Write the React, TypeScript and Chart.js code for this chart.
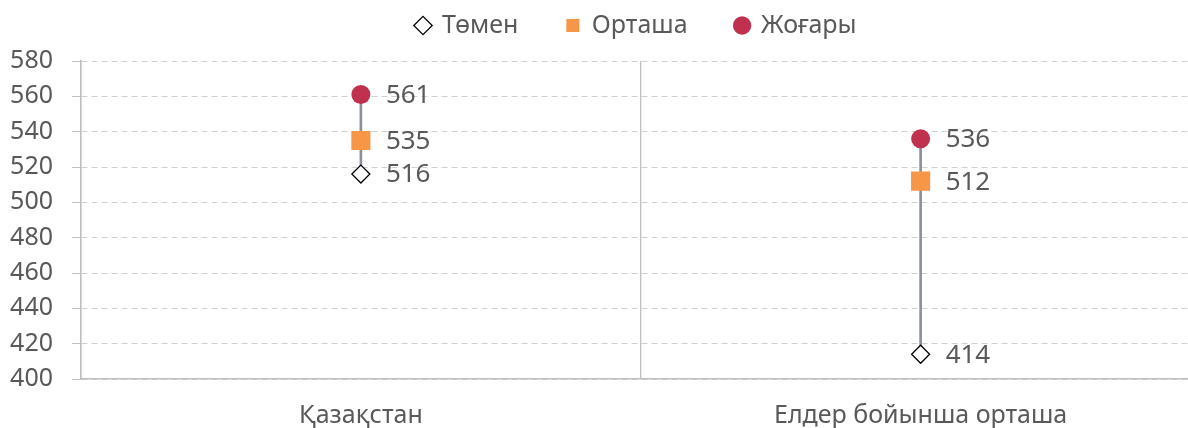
import React, { useEffect, useRef } from "react";
import { Chart, registerables } from "chart.js";

Chart.register(...registerables);

const categories = ["Қазақстан", "Елдер бойынша орташа"];
const lowValues = [516, 414];
const midValues = [535, 512];
const highValues = [561, 536];
const seriesNames = ["Төмен", "Орташа", "Жоғары"];
const yTicks = [400, 420, 440, 460, 480, 500, 520, 540, 560, 580];

const FONT = "'Noto Sans', sans-serif";
const TEXT = "#595959";

const labelPlugin = {
  id: "valueLabels",
  afterDatasetsDraw(chart: any) {
    const ctx = chart.ctx;
    ctx.save();
    ctx.font = `26px ${FONT}`;
    ctx.fillStyle = TEXT;
    ctx.textAlign = "left";
    ctx.textBaseline = "middle";
    chart.data.datasets.forEach((ds: any, di: number) => {
      if (ds.type !== "line") return;
      const meta = chart.getDatasetMeta(di);
      meta.data.forEach((pt: any, i: number) => {
        ctx.fillText(String(ds.data[i]), pt.x + 25, pt.y + 1);
      });
    });
    ctx.restore();
  },
};

const legendPlugin = {
  id: "legendTweak",
  beforeInit(chart: any) {
    const legend = chart.legend;
    if (!legend) return;
    const origFit = legend.fit;
    legend.fit = function () {
      origFit.call(this);
      this.height = 96;
    };
  },
  afterLayout(chart: any) {
    const legend = chart.legend;
    if (!legend) return;
    legend.left += 30;
    legend.right += 30;
  },
};

export default function App() {
  const ref = useRef<HTMLCanvasElement | null>(null);
  useEffect(() => {
    if (!ref.current) return;
    const chart = new Chart(ref.current, {
      type: "bar",
      data: {
        labels: categories,
        datasets: [
          {
            type: "line",
            label: seriesNames[0],
            data: lowValues,
            showLine: false,
            pointStyle: "rectRot",
            pointRadius: 9,
            pointBackgroundColor: "#ffffff",
            pointBorderColor: "#000000",
            pointBorderWidth: 1.3,
            backgroundColor: "#ffffff",
            borderColor: "#000000",
            borderWidth: 1.3,
          } as any,
          {
            type: "line",
            label: seriesNames[1],
            data: midValues,
            showLine: false,
            pointStyle: "rect",
            pointRadius: 13.5,
            pointBackgroundColor: "#f79646",
            pointBorderColor: "#f79646",
            pointBorderWidth: 0,
            backgroundColor: "#f79646",
            borderColor: "#f79646",
            borderWidth: 0,
          } as any,
          {
            type: "line",
            label: seriesNames[2],
            data: highValues,
            showLine: false,
            pointStyle: "circle",
            pointRadius: 9.5,
            pointBackgroundColor: "#c0304f",
            pointBorderColor: "#c0304f",
            pointBorderWidth: 0,
            backgroundColor: "#c0304f",
            borderColor: "#c0304f",
            borderWidth: 0,
          } as any,
          {
            type: "bar",
            label: "hilo",
            data: lowValues.map((v, i) => [v, highValues[i]]),
            backgroundColor: "#8a909e",
            barThickness: 2,
            borderWidth: 0,
          } as any,
        ],
      },
      options: {
        animation: false,
        responsive: true,
        maintainAspectRatio: false,
        devicePixelRatio: 1,
        layout: { padding: { left: 0, right: 1, top: -35, bottom: 0 } },
        plugins: {
          tooltip: { enabled: false },
          legend: {
            position: "top",
            labels: {
              filter: (item: any) => item.text !== "hilo",
              usePointStyle: true,
              boxHeight: 13,
              boxWidth: 13,
              padding: 48,
              color: TEXT,
              font: { family: FONT, size: 25 },
            },
          },
        },
        scales: {
          x: {
            offset: true,
            afterFit: (scale: any) => {
              scale.height = 49;
              scale.paddingLeft = 0;
              scale.paddingRight = 0;
            },
            grid: {
              offset: true,
              display: true,
              drawTicks: false,
              color: "#bfbfbf",
              lineWidth: 1.3,
            },
            border: { display: true, color: "#bfbfbf", width: 1.5 },
            ticks: {
              color: TEXT,
              font: { family: FONT, size: 25 },
              padding: 22,
            },
          },
          y: {
            min: 400,
            max: 580,
            afterFit: (scale: any) => {
              scale.width = 81;
              scale.paddingLeft = 0;
              scale.paddingRight = 0;
            },
            afterBuildTicks: (axis: any) => {
              axis.ticks = yTicks.map((v) => ({ value: v }));
            },
            grid: {
              color: "#d0d0d0",
              lineWidth: 1,
              tickLength: 9,
              tickColor: "#bfbfbf",
              tickBorderDash: [],
            },
            border: { display: true, color: "#bfbfbf", width: 1.5, dash: [6, 4] },
            ticks: {
              autoSkip: false,
              color: TEXT,
              font: { family: FONT, size: 25 },
              padding: 19,
            },
          },
        },
      },
      plugins: [labelPlugin, legendPlugin],
    });
    return () => chart.destroy();
  }, []);
  return (
    <div style={{ position: "fixed", left: 0, top: 0, width: 1188, height: 428, overflow: "hidden", background: "#fff" }}>
      <div style={{ position: "relative", width: 1214, height: 428 }}>
        <canvas ref={ref} />
      </div>
    </div>
  );
}
